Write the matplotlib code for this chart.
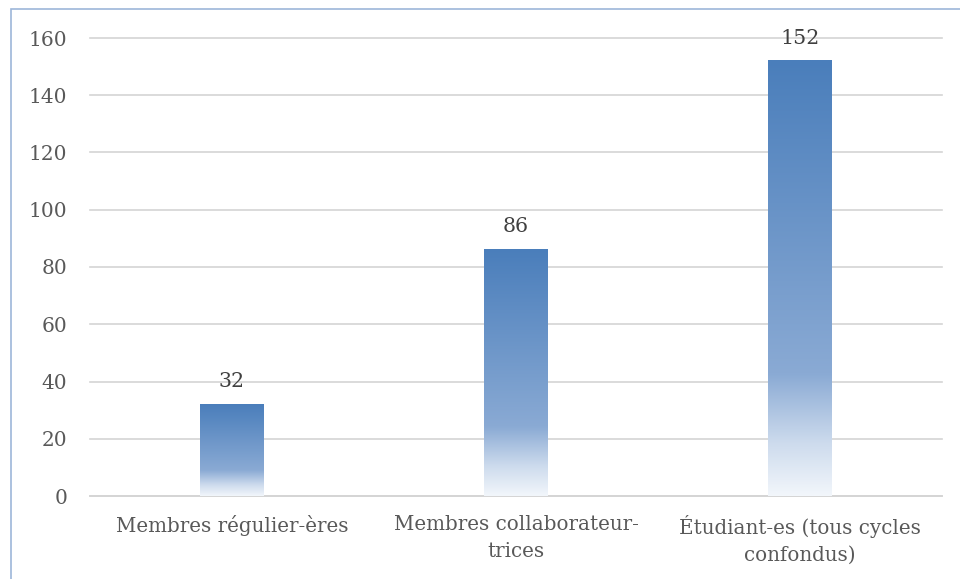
import matplotlib
matplotlib.use("Agg")
import matplotlib.pyplot as plt
import numpy as np
from matplotlib.colors import LinearSegmentedColormap
from matplotlib.patches import Rectangle

categories = ["Membres régulier-ères", "Membres collaborateur-\ntrices", "Étudiant-es (tous cycles\nconfondus)"]
values = [32, 86, 152]
yticks = [0, 20, 40, 60, 80, 100, 120, 140, 160]

W, H = 960, 579
fig = plt.figure(figsize=(W/100, H/100), dpi=100)
ax = fig.add_axes([90/W, (H-496)/H, 852/W, 458/H])

font = "DejaVu Serif"
tc = "#595959"

cmap = LinearSegmentedColormap.from_list("g", [
    (0.0, (74/255, 126/255, 187/255)),
    (0.72, (138/255, 170/255, 212/255)),
    (0.88, (205/255, 219/255, 237/255)),
    (1.0, (242/255, 246/255, 251/255)),
])
grad = np.linspace(0, 1, 256).reshape(-1, 1)

bw = 0.225
x = np.arange(len(categories))
bars = ax.bar(x, values, width=bw, color="none", zorder=3)
for b, v in zip(bars, values):
    x0 = b.get_x()
    ax.imshow(grad, cmap=cmap, aspect="auto", extent=[x0, x0 + bw, 0, v],
              origin="upper", zorder=3, interpolation="bilinear")
    ax.annotate(str(v), (b.get_x() + bw/2, v), xytext=(0, 12.5), textcoords="offset points",
                ha="center", va="baseline", fontsize=14.8, color="#404040",
                family=font, zorder=4, annotation_clip=False)

ax.set_xlim(-0.5, 2.5)
ax.set_ylim(0, 160)
ax.set_yticks(yticks)
ax.set_xticks(x)
ax.set_xticklabels(categories, family=font, fontsize=14.3, color=tc, linespacing=1.5)
for t in ax.get_yticklabels():
    t.set_family(font); t.set_fontsize(14.5); t.set_color(tc)
ax.tick_params(axis="both", length=0)
ax.tick_params(axis="y", pad=16.5)
ax.tick_params(axis="x", pad=14)
ax.grid(axis="y", color="#D4D4D4", linewidth=1.2, zorder=0)
for gl in ax.get_ygridlines():
    gl.set_clip_on(False)
ax.set_axisbelow(True)
for s in ["left", "right", "top"]:
    ax.spines[s].set_visible(False)
ax.spines["bottom"].set_color("#D4D4D4")
ax.spines["bottom"].set_linewidth(1.2)

fig.patches.append(Rectangle((11/W, -0.1), 1.2, (H-9)/H + 0.1, transform=fig.transFigure,
                             fill=False, edgecolor="#9DB6D9", linewidth=1.2))

fig.savefig("out.png", dpi=100)
